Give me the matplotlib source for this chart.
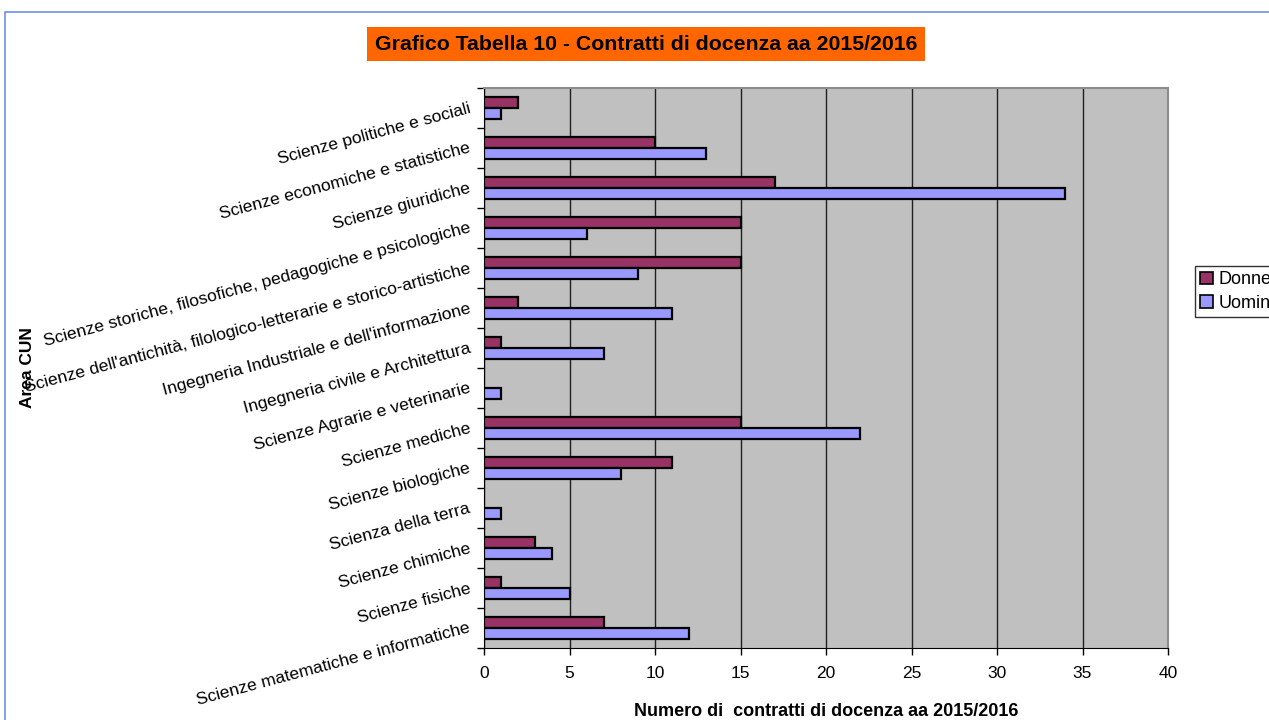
import numpy as np
import matplotlib
matplotlib.use("Agg")
import matplotlib.pyplot as plt
from matplotlib.patches import Rectangle, Patch

plt.rcParams['font.family'] = ['Liberation Sans', 'DejaVu Sans']

# Aree CUN, dall'alto verso il basso
aree = [
    "Scienze politiche e sociali",
    "Scienze economiche e statistiche",
    "Scienze giuridiche",
    "Scienze storiche, filosofiche, pedagogiche e psicologiche",
    "Scienze dell'antichità, filologico-letterarie e storico-artistiche",
    "Ingegneria Industriale e dell'informazione",
    "Ingegneria civile e Architettura",
    "Scienze Agrarie e veterinarie",
    "Scienze mediche",
    "Scienze biologiche",
    "Scienza della terra",
    "Scienze chimiche",
    "Scienze fisiche",
    "Scienze matematiche e informatiche",
]
donne = [2, 10, 17, 15, 15, 2, 1, 0, 15, 11, 0, 3, 1, 7]
uomini = [1, 13, 34, 6, 9, 11, 7, 1, 22, 8, 1, 4, 5, 12]

col_donne = '#993366'
col_uomini = '#9999FF'

fig = plt.figure(figsize=(12.69, 7.2), dpi=100)

# cornice esterna
fig.patches.append(Rectangle((5 / 1269, -0.1), 1.2, 1.1 - 12 / 720,
                             transform=fig.transFigure, fill=False,
                             edgecolor='#6F8FEF', linewidth=1.2))

ax = fig.add_axes([484 / 1269, 72 / 720, 684 / 1269, 560 / 720])
ax.set_facecolor('#C0C0C0')

y = np.arange(len(aree))
h = 0.28
d = np.array(donne)
u = np.array(uomini)
md = d > 0
mu = u > 0
ax.barh(y[md] - h / 2, d[md], height=h, color=col_donne,
        edgecolor='black', linewidth=1.6, zorder=3)
ax.barh(y[mu] + h / 2, u[mu], height=h, color=col_uomini,
        edgecolor='black', linewidth=1.6, zorder=3)

ax.set_xlim(0, 40)
ax.set_ylim(len(aree) - 0.5, -0.5)
ax.set_xticks(np.arange(0, 41, 5))
ax.tick_params(axis='x', labelsize=12.5, length=5, width=1, pad=8)
ax.xaxis.grid(True, color='#202020', linewidth=1, zorder=1)
ax.set_axisbelow(True)

ax.set_yticks(y)
ax.set_yticklabels(aree, rotation=15, ha='right', va='center',
                   rotation_mode='anchor', fontsize=12.6)
ax.tick_params(axis='y', which='major', length=0, pad=10)
ax.set_yticks(np.arange(len(aree) + 1) - 0.5, minor=True)
ax.tick_params(axis='y', which='minor', length=5, width=1)

for s in ['left', 'bottom']:
    ax.spines[s].set_color('black')
for s in ['top', 'right']:
    ax.spines[s].set_color('#8C8C8C')
    ax.spines[s].set_linewidth(1.5)

ax.set_xlabel('Numero di  contratti di docenza aa 2015/2016',
              fontsize=13, fontweight='bold', labelpad=16)
fig.text(28 / 1269, 1 - 368 / 720, 'Area CUN', rotation=90,
         ha='center', va='center', fontsize=12.5, fontweight='bold')

fig.text(646 / 1269, 1 - 44 / 720,
         'Grafico Tabella 10 - Contratti di docenza aa 2015/2016',
         ha='center', va='center', fontsize=15.3, fontweight='bold',
         bbox=dict(boxstyle='square,pad=0.35', facecolor='#FF6600',
                   edgecolor='none'))

handles = [Patch(facecolor=col_donne, edgecolor='black', linewidth=1.2),
           Patch(facecolor=col_uomini, edgecolor='black', linewidth=1.2)]
leg = fig.legend(handles, ['Donne', 'Uomini'], loc='upper left',
                 bbox_to_anchor=(1195 / 1269, 1 - 266 / 720),
                 fontsize=13, frameon=True, fancybox=False,
                 handlelength=0.7, handleheight=0.7, handletextpad=0.3,
                 borderpad=0.3, labelspacing=0.35, borderaxespad=0)
leg.get_frame().set_edgecolor('black')
leg.get_frame().set_linewidth(1)

fig.savefig('out.png', dpi=100)
